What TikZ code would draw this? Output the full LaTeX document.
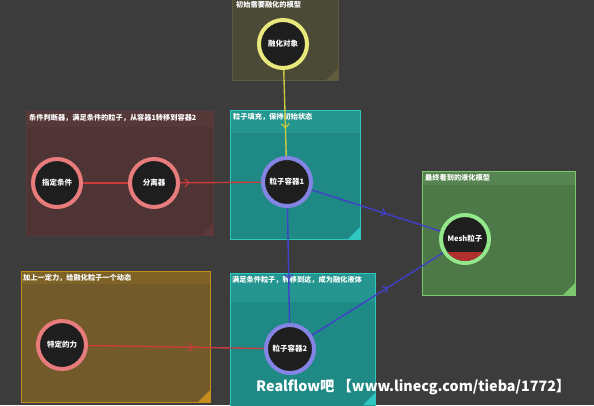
\documentclass[tikz,border=0pt]{standalone}
\usepackage{fontspec}
\newfontfamily\cjk{Noto Sans CJK SC}
\usetikzlibrary{decorations.markings,arrows.meta,shadows}
\definecolor{bgc}{HTML}{3C3C3C}
\definecolor{olivef}{HTML}{4B4A36}
\definecolor{oliveb}{HTML}{5E5C3C}
\definecolor{redf}{HTML}{4E3434}
\definecolor{redband}{HTML}{553838}
\definecolor{redb}{HTML}{5E3838}
\definecolor{tealf}{HTML}{1F8A85}
\definecolor{tealband}{HTML}{24968F}
\definecolor{tealb}{HTML}{2EC8C0}
\definecolor{greenf}{HTML}{4D7848}
\definecolor{greenband}{HTML}{578551}
\definecolor{greenb}{HTML}{7CC86C}
\definecolor{orangef}{HTML}{735A2A}
\definecolor{orangeband}{HTML}{7E6226}
\definecolor{orangeb}{HTML}{C48C1E}
\definecolor{nodefill}{HTML}{1E1E1E}
\definecolor{ringyellow}{HTML}{E8E87C}
\definecolor{ringpink}{HTML}{E87C7C}
\definecolor{ringblue}{HTML}{8484E4}
\definecolor{ringgreen}{HTML}{94E88C}
\definecolor{linered}{HTML}{C83C3C}
\definecolor{lineblue}{HTML}{4040C8}
\definecolor{lineyellow}{HTML}{C8C840}
\definecolor{meshred}{HTML}{B03030}
\tikzset{
  grouptitle/.style={anchor=west, inner sep=0, text=white, font=\cjk\bfseries\fontsize{7.2}{8}\selectfont},
  ringnode/.style={circle, fill=nodefill, draw=#1, line width=4pt, minimum size=48pt, inner sep=0,
     text=white, font=\cjk\bfseries\fontsize{7.5}{8}\selectfont,
     drop shadow={shadow xshift=1.5pt, shadow yshift=-1.5pt, opacity=0.5}},
  conn/.style={line width=1.4pt, draw=#1},
  midarrow/.style 2 args={postaction={decorate}, decoration={markings,
     mark=at position #1 with {\arrow{Straight Barb[length=4pt,width=8pt,line width=1.2pt]}}}, color=#2},
}
\begin{document}
\begin{tikzpicture}[x=1pt,y=-1pt]
\fill[bgc] (0,0) rectangle (594,405);
\useasboundingbox (0,0) rectangle (594,405);

% olive group
\fill[olivef] (232,0) rectangle (338,80);
\fill[oliveb] (338,80) -- (326,80) -- (338,68) -- cycle;
\draw[oliveb, line width=1pt] (232,-2) rectangle (338,80);
\node[grouptitle] (t1) at (236,5) {初始需要融化的模型};

% red group
\fill[redf] (26,111) rectangle (213,235);
\fill[redband] (26,111) rectangle (213,127);
\fill[redb] (213,235) -- (201,235) -- (213,223) -- cycle;
\draw[redb, line width=1pt] (26,111) rectangle (213,235);
\node[grouptitle] (t2) at (29,118) {条件判断器，满足条件的粒子，从容器1转移到容器2};

% teal group 1
\fill[tealf] (230,110) rectangle (360,239);
\fill[tealband] (230,110) rectangle (360,133);
\fill[tealb] (360,239) -- (348,239) -- (360,227) -- cycle;
\draw[tealb, line width=1pt] (230,110) rectangle (360,239);
\node[grouptitle] (t3) at (233,117) {粒子填充，保持初始状态};

% green group
\fill[greenf] (422,171) rectangle (575,295);
\fill[greenband] (422,171) rectangle (575,185);
\fill[greenb] (575,295) -- (563,295) -- (575,283) -- cycle;
\draw[greenb, line width=1pt] (422,171) rectangle (575,295);
\node[grouptitle] (t4) at (425,177.5) {最终看到的液化模型};

% orange group
\fill[orangef] (21,271) rectangle (210,402);
\fill[orangeband] (21,271) rectangle (210,284);
\fill[orangeb] (210,402) -- (198,402) -- (210,390) -- cycle;
\draw[orangeb, line width=1pt] (21,271) rectangle (210,402);
\node[grouptitle] (t5) at (23,278) {加上一定力，给融化粒子一个动态};

% teal group 2
\fill[tealf] (230,273) rectangle (375,407);
\fill[tealband] (230,273) rectangle (375,302);
\fill[tealb] (375,405) -- (363,405) -- (375,393) -- cycle;
\draw[tealb, line width=1pt] (230,273) rectangle (375,407);
\node[grouptitle] (t6) at (232,280) {满足条件粒子，转移到这，成为融化液体};

% nodes
\node[ringnode=ringyellow] (melt) at (283,44) {融化对象};
\node[ringnode=ringpink] (cond) at (57,183) {指定条件};
\node[ringnode=ringpink] (sep) at (154,183) {分离器};
\node[ringnode=ringblue] (c1) at (287,182) {粒子容器1};
\node[ringnode=ringgreen] (mesh) at (465,239) {};
\begin{scope}
  \clip (mesh.center) circle (22pt);
  \fill[meshred] ([xshift=-30pt,yshift=-13pt]mesh.center) rectangle ([xshift=30pt,yshift=-30pt]mesh.center);
\end{scope}
\node[text=white, font=\cjk\bfseries\fontsize{7.5}{8}\selectfont, inner sep=0] (meshlabel) at (mesh.center) {Mesh粒子};
\node[ringnode=ringpink] (force) at (62,345) {特定的力};
\node[ringnode=ringblue] (c2) at (290,349) {粒子容器2};

% connectors
\draw[conn=lineyellow, midarrow={0.68}{lineyellow}] (melt) -- (c1);
\draw[conn=linered] (cond) -- (sep);
\draw[conn=linered, midarrow={0.12}{linered}] (sep) -- (c1);
\draw[conn=lineblue, midarrow={0.58}{lineblue}] (c1) -- (mesh);
\draw[conn=lineblue, midarrow={0.62}{lineblue}] (c1) -- (c2);
\draw[conn=lineblue, midarrow={0.58}{lineblue}] (c2) -- (mesh);
\draw[conn=linered, midarrow={0.6}{linered}] (force) -- (c2);

% watermark
\node[anchor=west, inner sep=0, text=white, font=\cjk\bfseries\fontsize{14.3}{16}\selectfont] (wm) at (256,387) {Realflow吧 【www.linecg.com/tieba/1772】};
\end{tikzpicture}
\end{document}
